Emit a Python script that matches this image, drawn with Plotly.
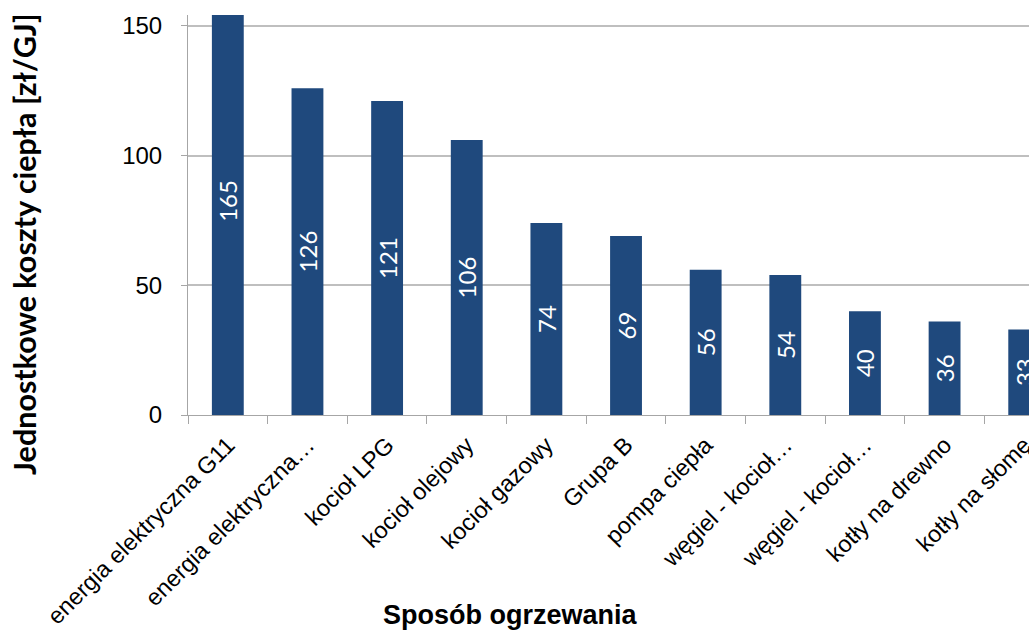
import plotly.graph_objects as go

categories = [
    "energia elektryczna G11",
    "energia elektryczna…",
    "kocioł LPG",
    "kocioł olejowy",
    "kocioł gazowy",
    "Grupa B",
    "pompa ciepła",
    "węgiel - kocioł…",
    "węgiel - kocioł…",
    "kotły na drewno",
    "kotły na słomę",
]
values = [165, 126, 121, 106, 74, 69, 56, 54, 40, 36, 33]
y_ticks = [0, 50, 100, 150]

positions = list(range(len(categories)))

fig = go.Figure(
    go.Bar(
        x=positions,
        y=values,
        width=0.4,
        marker=dict(color="#1F497D", line=dict(width=0)),
        text=[str(v) for v in values],
        textposition="inside",
        insidetextanchor="middle",
        constraintext="none",
        textangle=-90,
        textfont=dict(family="Lato", size=24, color="white"),
        cliponaxis=True,
        hoverinfo="skip",
    )
)

fig.update_layout(
    width=1029,
    height=630,
    margin=dict(l=188, r=0, t=15, b=215),
    paper_bgcolor="white",
    plot_bgcolor="white",
    showlegend=False,
    font=dict(family="Liberation Sans", color="black"),
    xaxis=dict(
        range=[-0.5, 10.06],
        tickmode="array",
        tickvals=positions,
        ticktext=categories,
        tickangle=-45,
        ticks="",
        ticklabelstandoff=6,
        ticklabeloverflow="allow",
        tickfont=dict(family="Liberation Sans", size=23.5, color="black"),
        showgrid=False,
        zeroline=False,
        showline=True,
        linecolor="#a6a6a6",
        linewidth=1,
        minor=dict(ticks="outside", tick0=0.5, dtick=1, ticklen=8,
                   tickcolor="#a6a6a6", showgrid=False),
        automargin=False,
    ),
    yaxis=dict(
        range=[0, 154.2],
        tickmode="array",
        tickvals=y_ticks,
        ticks="outside",
        ticklen=6,
        tickcolor="#a6a6a6",
        ticklabelstandoff=14,
        tickfont=dict(family="Liberation Sans", size=24, color="black"),
        showgrid=True,
        gridcolor="#bfbfbf",
        gridwidth=1.5,
        zeroline=False,
        showline=True,
        linecolor="#a6a6a6",
        linewidth=1,
        automargin=False,
    ),
    annotations=[
        dict(
            text="<b>Jednostkowe koszty ciepła [zł/GJ]</b>",
            xref="paper", yref="paper",
            x=(24 - 188) / 841, y=(415 - 245) / 400,
            xanchor="center", yanchor="middle",
            textangle=-90,
            showarrow=False,
            font=dict(family="Lato", size=30.5, color="black"),
        ),
        dict(
            text="<b>Sposób ogrzewania</b>",
            xref="paper", yref="paper",
            x=(510 - 188) / 841, y=(415 - 615) / 400,
            xanchor="center", yanchor="middle",
            showarrow=False,
            font=dict(family="Liberation Sans", size=27, color="black"),
        ),
    ],
)

fig.write_html(
    "out.html",
    config={"displayModeBar": False},
    post_script="document.body.style.margin='0';document.body.style.overflow='hidden';",
)
